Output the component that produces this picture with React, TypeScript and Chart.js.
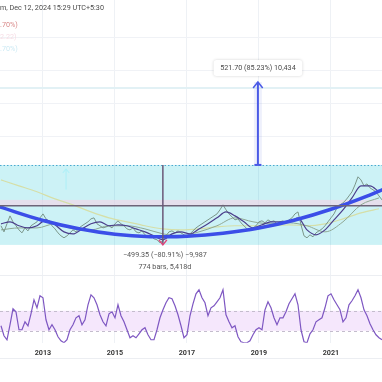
import React, { useEffect, useRef } from "react";
import { Chart, registerables } from "chart.js";

Chart.register(...registerables);

// ---------- data ----------
const START_MONTH = "2011-11";
const X_MIN = 2011.806;
const X_MAX = 2022.417;
const X_TICKS = [2013, 2015, 2017, 2019, 2021];

// monthly close
const PRICE = [
  255, 218, 267, 315, 279, 255, 230, 212, 242, 224,
  255, 267, 279, 303, 327, 297, 279, 255, 236, 212,
  194, 182, 194, 212, 230, 218, 242, 255, 267, 279,
  297, 303, 267, 255, 242, 248, 255, 242, 267, 285,
  267, 255, 236, 230, 242, 218, 212, 224, 200, 188,
  194, 176, 170, 152, 164, 194, 218, 224, 212, 224,
  212, 200, 194, 206, 224, 242, 255, 267, 279, 291,
  303, 315, 327, 352, 382, 352, 327, 309, 291, 297,
  273, 255, 236, 224, 242, 255, 279, 285, 273, 291,
  279, 285, 267, 279, 285, 273, 291, 303, 327, 339,
  261, 194, 182, 200, 188, 212, 224, 236, 255, 279,
  303, 327, 364, 382, 394, 412, 436, 461, 503, 552,
  533, 497, 509, 485, 473, 461, 436, 412,
];

// monthly RSI
const RSI = [
  45, 35, 31, 46, 62, 59, 41, 41, 49, 45,
  57, 71, 63, 75, 73, 51, 41, 46, 41, 34,
  30, 28, 31, 41, 46, 53, 55, 46, 51, 66,
  76, 73, 66, 56, 49, 45, 57, 59, 53, 66,
  55, 49, 41, 33, 35, 33, 37, 41, 43, 36,
  31, 31, 41, 53, 61, 68, 73, 72, 65, 56,
  45, 33, 36, 55, 67, 77, 81, 73, 68, 55,
  63, 65, 69, 73, 81, 56, 49, 43, 45, 34,
  29, 28, 28, 30, 36, 41, 43, 41, 61, 69,
  63, 53, 46, 53, 53, 59, 67, 72, 77, 66,
  41, 29, 28, 37, 41, 49, 51, 53, 63, 75,
  77, 71, 66, 61, 49, 53, 66, 70, 75, 81,
  73, 61, 55, 47, 41, 36, 33, 31,
];
const RSI_UPPER = 60;
const RSI_LOWER = 40;

// quarterly short MA
const MA_SHORT = [
  267, 279, 255, 242, 255, 291, 261, 218, 206, 236,
  267, 279, 255, 261, 255, 236, 218, 194, 170, 206,
  218, 206, 236, 267, 303, 339, 315, 279, 242, 261,
  279, 279, 279, 303, 230, 200, 230, 291, 352, 424,
  497, 497, 461,
];
// half-yearly medium and long MA
const MA_MED = [230, 242, 242, 267, 236, 230, 255, 255, 236, 206, 194, 218, 255, 303, 279, 267, 273, 255, 218, 279, 382, 424];
const MA_LONG = [533, 497, 461, 418, 382, 339, 303, 279, 255, 236, 230, 236, 248, 255, 255, 255, 261, 255, 267, 297, 333, 358];

// curve drawing
const CURVE_T = [2011.8, 2013, 2014, 2015, 2016, 2016.4, 2017, 2018, 2019, 2020, 2021, 2022, 2022.45];
const CURVE_P = [369, 287, 237, 204, 189, 188, 191, 209, 241, 290, 355, 435, 476];

// drawings
const MEASURE_TOP = 624;
const MEASURE_BOTTOM = 139;
const MEASURE_T = 2016.33;
const ARROW_T = 2018.97;
const ARROW_TO = 1127;
const LABEL_P = 1212;
const H_LINE = 376;
const H_BAND_TOP = 412;
const CYAN_LINE = 1091;
const FAINT_ARROW_T = 2013.64;
const FAINT_ARROW_FROM = 473;
const FAINT_ARROW_TO = 600;
const PRICE_GRID = [800, 1000, 1200, 1400];
const RSI_SEPARATOR = 96;

const UP_LABEL = "521.70 (85.23%) 10,434";
const DOWN_LABEL_1 = "\u2212499.35 (\u221280.91%) \u22129,987";
const DOWN_LABEL_2 = "774 bars, 5,418d";
const HEADER = "m, Dec 12, 2024 15:29 UTC+5:30";
const LEGEND_ROWS = [".70%)", "2.22)", ".70%)"];
const LEGEND_COLORS = ["#d98a8a", "#f6dde5", "#cdeaf4"];

function monthSeries(start: string, count: number, step: number): number[] {
  const [ys, ms] = start.split("-").map(Number);
  const base = ys + (ms - 1) / 12;
  return Array.from({ length: count }, (_, i) => base + (i * step) / 12);
}

function pts(xs: number[], ys: number[]) {
  return ys.map((v, i) => ({ x: xs[i], y: v }));
}

const FONT = "Roboto, 'Noto Sans', sans-serif";

function chevron(ctx: CanvasRenderingContext2D, x: number, y: number, dir: number, size: number) {
  ctx.beginPath();
  ctx.moveTo(x - size * 0.8, y - dir * size);
  ctx.lineTo(x, y);
  ctx.lineTo(x + size * 0.8, y - dir * size);
  ctx.stroke();
}

const drawings = {
  id: "drawings",
  beforeDatasetsDraw(chart: any) {
    const { ctx, chartArea, scales } = chart;
    const { left, right } = chartArea;
    const x = scales.x, y = scales.y, y2 = scales.y2;
    ctx.save();
    // horizontal grid
    ctx.strokeStyle = "#f0f2f6";
    ctx.lineWidth = 1;
    PRICE_GRID.forEach((p) => {
      const py = Math.round(y.getPixelForValue(p)) + 0.5;
      ctx.beginPath();
      ctx.moveTo(left, py);
      ctx.lineTo(right, py);
      ctx.stroke();
    });
    // pane separator
    const sy = Math.round(y2.getPixelForValue(RSI_SEPARATOR)) + 0.5;
    ctx.strokeStyle = "#eceef2";
    ctx.beginPath();
    ctx.moveTo(left, sy);
    ctx.lineTo(right, sy);
    ctx.stroke();
    // light cyan line
    const cy = y.getPixelForValue(CYAN_LINE);
    ctx.strokeStyle = "#e2f1f5";
    ctx.lineWidth = 2;
    ctx.beginPath();
    ctx.moveTo(left, cy);
    ctx.lineTo(right, cy);
    ctx.stroke();
    // cyan rectangle
    const yt = y.getPixelForValue(MEASURE_TOP);
    const yb = y.getPixelForValue(MEASURE_BOTTOM);
    ctx.fillStyle = "rgba(0,188,212,0.2)";
    ctx.fillRect(left, yt, right - left, yb - yt);
    // pink band
    const hb = y.getPixelForValue(H_BAND_TOP);
    const hl = y.getPixelForValue(H_LINE);
    ctx.fillStyle = "rgba(245,210,230,0.6)";
    ctx.fillRect(left, hb, right - left, hl - hb);
    // faint arrow inside rectangle
    const fx = x.getPixelForValue(FAINT_ARROW_T);
    ctx.strokeStyle = "rgba(160,240,248,0.6)";
    ctx.lineWidth = 1.2;
    ctx.beginPath();
    ctx.moveTo(fx, y.getPixelForValue(FAINT_ARROW_FROM));
    ctx.lineTo(fx, y.getPixelForValue(FAINT_ARROW_TO));
    ctx.stroke();
    chevron(ctx, fx, y.getPixelForValue(FAINT_ARROW_TO), -1, 4);
    // RSI band
    const ru = y2.getPixelForValue(RSI_UPPER);
    const rl = y2.getPixelForValue(RSI_LOWER);
    ctx.fillStyle = "#f5e7fc";
    ctx.fillRect(left, ru, right - left, rl - ru);
    ctx.strokeStyle = "#c4bccd";
    ctx.lineWidth = 1;
    ctx.setLineDash([3, 3]);
    [ru, rl].forEach((v) => {
      const py = Math.round(v) + 0.5;
      ctx.beginPath();
      ctx.moveTo(left, py);
      ctx.lineTo(right, py);
      ctx.stroke();
    });
    ctx.setLineDash([]);
    ctx.restore();
  },
  afterDatasetsDraw(chart: any) {
    const { ctx, chartArea, scales } = chart;
    const { left, right } = chartArea;
    const x = scales.x, y = scales.y;
    ctx.save();
    const yt = y.getPixelForValue(MEASURE_TOP);
    const yb = y.getPixelForValue(MEASURE_BOTTOM);
    // dotted top
    ctx.strokeStyle = "#4aa8cf";
    ctx.lineWidth = 1;
    ctx.setLineDash([1.5, 2]);
    ctx.beginPath();
    ctx.moveTo(left, Math.round(yt) + 0.5);
    ctx.lineTo(right, Math.round(yt) + 0.5);
    ctx.stroke();
    ctx.setLineDash([]);
    // horizontal dark line
    const hl = y.getPixelForValue(H_LINE);
    ctx.strokeStyle = "#6e6478";
    ctx.lineWidth = 1.5;
    ctx.beginPath();
    ctx.moveTo(left, hl);
    ctx.lineTo(right, hl);
    ctx.stroke();
    // vertical measure line
    const mx = x.getPixelForValue(MEASURE_T);
    ctx.strokeStyle = "#6a5878";
    ctx.lineWidth = 1.5;
    ctx.beginPath();
    ctx.moveTo(mx, yt);
    ctx.lineTo(mx, yb);
    ctx.stroke();
    ctx.strokeStyle = "#e0457b";
    ctx.lineWidth = 1.5;
    chevron(ctx, mx, yb, 1, 5);
    // up arrow
    const ax = x.getPixelForValue(ARROW_T);
    const at = y.getPixelForValue(ARROW_TO);
    ctx.fillStyle = "rgba(90,110,230,0.1)";
    ctx.fillRect(ax - 4, at, 8, yt - at);
    ctx.strokeStyle = "#4a5ae6";
    ctx.lineWidth = 2;
    ctx.beginPath();
    ctx.moveTo(ax, yt);
    ctx.lineTo(ax, at);
    ctx.stroke();
    ctx.beginPath();
    ctx.moveTo(ax - 3.5, yt);
    ctx.lineTo(ax + 3.5, yt);
    ctx.stroke();
    ctx.lineWidth = 1.5;
    chevron(ctx, ax, at, -1, 6);
    // label box
    ctx.font = `7.2px ${FONT}`;
    const ly = y.getPixelForValue(LABEL_P);
    const tw = ctx.measureText(UP_LABEL).width;
    const bw = tw + 13, bh = 16;
    ctx.shadowColor = "rgba(0,0,0,0.18)";
    ctx.shadowBlur = 3;
    ctx.fillStyle = "#ffffff";
    ctx.beginPath();
    (ctx as any).roundRect(ax - bw / 2, ly - bh / 2, bw, bh, 3);
    ctx.fill();
    ctx.shadowBlur = 0;
    ctx.shadowColor = "transparent";
    ctx.fillStyle = "#4a4a4a";
    ctx.textAlign = "center";
    ctx.textBaseline = "middle";
    ctx.fillText(UP_LABEL, ax, ly + 0.5);
    // measure texts
    ctx.fillStyle = "#555555";
    ctx.fillText(DOWN_LABEL_1, mx + 2, yb + 10);
    ctx.fillText(DOWN_LABEL_2, mx + 2, yb + 22);
    ctx.restore();
  },
  afterDraw(chart: any) {
    const { ctx, chartArea } = chart;
    ctx.save();
    ctx.strokeStyle = "#eceef2";
    ctx.lineWidth = 1;
    ctx.beginPath();
    ctx.moveTo(chartArea.left, 358.5);
    ctx.lineTo(chartArea.right, 358.5);
    ctx.stroke();
    ctx.font = `7.2px ${FONT}`;
    ctx.textAlign = "left";
    ctx.textBaseline = "middle";
    ctx.fillStyle = "#4a4a4a";
    ctx.fillText(HEADER, 0, 8);
    LEGEND_ROWS.forEach((t, i) => {
      ctx.fillStyle = LEGEND_COLORS[i];
      ctx.fillText(t, 0, 25 + i * 12);
    });
    ctx.restore();
  },
};

export default function App() {
  const ref = useRef<HTMLCanvasElement | null>(null);
  useEffect(() => {
    document.body.style.margin = "0";
    const canvas = ref.current;
    if (!canvas) return;
    const tPrice = monthSeries(START_MONTH, PRICE.length, 1);
    const tShort = monthSeries(START_MONTH, MA_SHORT.length, 3);
    const tMed = monthSeries(START_MONTH, MA_MED.length, 6);
    const tLong = monthSeries(START_MONTH, MA_LONG.length, 6);
    const chart = new Chart(canvas, {
      type: "line",
      data: {
        datasets: [
          { label: "Curve", data: pts(CURVE_T, CURVE_P), borderColor: "#3b4ee8", borderWidth: 3.5, cubicInterpolationMode: "monotone", pointRadius: 0, yAxisID: "y", order: 1 },
          { label: "RSI", data: pts(tPrice, RSI), borderColor: "#7e57c2", borderWidth: 1.2, pointRadius: 0, yAxisID: "y2", order: 2 },
          { label: "MA short", data: pts(tShort, MA_SHORT), borderColor: "#4b3f8c", borderWidth: 1.2, cubicInterpolationMode: "monotone", pointRadius: 0, yAxisID: "y", order: 3 },
          { label: "Price", data: pts(tPrice, PRICE), borderColor: "#7a968a", borderWidth: 1, pointRadius: 0, yAxisID: "y", order: 4 },
          { label: "MA med", data: pts(tMed, MA_MED), borderColor: "#8fa894", borderWidth: 1, cubicInterpolationMode: "monotone", pointRadius: 0, yAxisID: "y", order: 5 },
          { label: "MA long", data: pts(tLong, MA_LONG), borderColor: "#d5dfa8", borderWidth: 1.2, cubicInterpolationMode: "monotone", pointRadius: 0, yAxisID: "y", order: 6 },
        ],
      },
      options: {
        animation: false,
        responsive: false,
        layout: { padding: { left: 0, right: 0, top: 0, bottom: 18.6 } },
        plugins: { legend: { display: false }, tooltip: { enabled: false } },
        scales: {
          x: {
            type: "linear",
            min: X_MIN,
            max: X_MAX,
            afterBuildTicks: (s: any) => {
              s.ticks = X_TICKS.map((v) => ({ value: v }));
            },
            ticks: {
              callback: (v: any) => String(v),
              font: { family: FONT, size: 7.2, weight: "bold" },
              color: "#3a3a3a",
              padding: 6,
              maxRotation: 0,
              autoSkip: false,
            },
            grid: { color: "#eef1f5", drawTicks: false },
            border: { display: false },
          },
          y: { display: false, min: -454.5, max: 1624.2 },
          y2: { display: false, min: 28, max: 371 },
        },
      },
      plugins: [drawings],
    } as any);
    return () => chart.destroy();
  }, []);
  return (
    <div style={{ width: 382, height: 382 }}>
      <canvas ref={ref} width={382} height={382} style={{ width: 382, height: 382, display: "block" }} />
    </div>
  );
}
